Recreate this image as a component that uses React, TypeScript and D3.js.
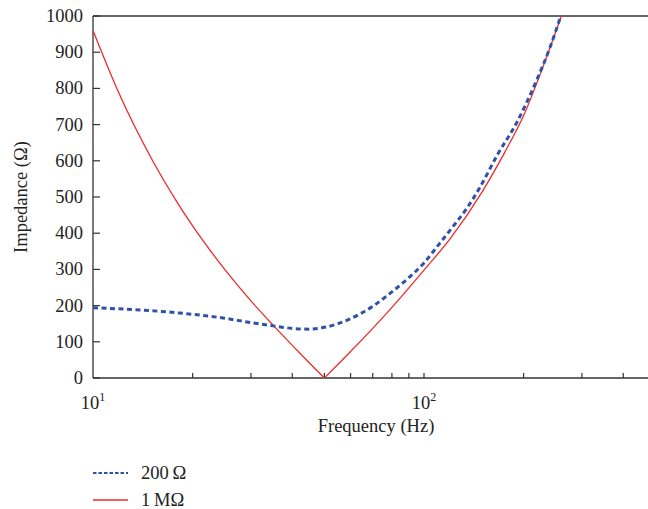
import React from "react";
import * as d3 from "d3";

// values (frequency in Hz, impedance in ohm)
const freqs200 = [10, 12, 15, 18, 20, 25, 30, 35, 40, 45, 50, 55, 60, 70, 80, 90, 100, 110, 121, 135, 147, 167, 190, 219, 240, 259];
const imp200 = [194, 191, 186, 180, 176, 165, 153, 144, 137, 135, 140, 150, 164, 198, 238, 277, 318, 365, 413, 470, 524, 618, 703, 823, 912, 1000];

// 1 MΩ curve: falling branch and rising branch meet at the 50 Hz notch
const freqs1MLow = [10, 12, 15, 18, 20, 25, 30, 35, 40, 45, 50];
const imp1MLow = [960, 785, 607, 484, 420, 300, 213, 146, 90, 42, 0];
const freqs1MHigh = [50, 55, 60, 70, 80, 100, 120, 150, 175, 200, 230, 260];
const imp1MHigh = [0, 38, 73, 137, 195, 298, 385, 515, 622, 725, 865, 1000];

const yTicks = [0, 100, 200, 300, 400, 500, 600, 700, 800, 900, 1000];
const xMinorTicks = [20, 30, 40, 50, 60, 70, 80, 90, 100, 200, 300, 400];
const xLabels = [
  { v: 10, exp: "1" },
  { v: 100, exp: "2" },
];

const W = 648;
const H = 509;
const left = 93;
const top = 16;
const bottom = 378;
const decade = 331;

const font = "'Liberation Serif', 'DejaVu Serif', serif";
const axisColor = "#333";
const blue = "#2f52a6";
const red = "#ee2a2a";

const App = () => {
  const x = d3
    .scaleLog()
    .domain([10, 500])
    .range([left, left + decade * Math.log10(50)]);
  const y = d3.scaleLinear().domain([0, 1000]).range([bottom, top]);

  const line = d3
    .line<[number, number]>()
    .x((d) => x(d[0]))
    .y((d) => y(d[1]))
    .curve(d3.curveMonotoneX);

  const zip = (fs: number[], vs: number[]) => fs.map((f, i) => [f, vs[i]] as [number, number]);
  const s200 = zip(freqs200, imp200);
  const s1MLow = zip(freqs1MLow, imp1MLow);
  const s1MHigh = zip(freqs1MHigh, imp1MHigh);

  return (
    <svg
      width={W}
      height={H}
      style={{ position: "absolute", left: 0, top: 0, background: "#fff" }}
      fontFamily={font}
    >
      <defs>
        <clipPath id="plot">
          <rect x={left} y={top - 2} width={W - left} height={bottom - top + 2} />
        </clipPath>
      </defs>

      {/* frame */}
      <line x1={left} x2={W} y1={top} y2={top} stroke={axisColor} strokeWidth={1.3} />
      <line x1={left} x2={W} y1={bottom} y2={bottom} stroke={axisColor} strokeWidth={1.3} />
      <line x1={left} x2={left} y1={top} y2={bottom} stroke={axisColor} strokeWidth={1.3} />

      {/* y ticks */}
      {yTicks.map((t) => (
        <g key={t}>
          <line x1={left} x2={left + 7} y1={y(t)} y2={y(t)} stroke={axisColor} strokeWidth={1.2} />
          <text x={83} y={y(t) + 6} textAnchor="end" fontSize={18.5} fill="#222">
            {t}
          </text>
        </g>
      ))}

      {/* x ticks */}
      {xMinorTicks.map((t) => (
        <line key={t} x1={x(t)} x2={x(t)} y1={bottom} y2={bottom - 5} stroke={axisColor} strokeWidth={1.2} />
      ))}
      {xLabels.map((d) => (
        <text key={d.v} x={x(d.v)} y={409} textAnchor="middle" fontSize={18.5} fill="#222">
          10
          <tspan dy={-8} fontSize={12}>
            {d.exp}
          </tspan>
        </text>
      ))}

      <text x={376} y={432} textAnchor="middle" fontSize={18.5} fill="#222">
        Frequency (Hz)
      </text>
      <text
        transform={`translate(27, ${(top + bottom) / 2}) rotate(-90)`}
        textAnchor="middle"
        fontSize={18.5}
        fill="#222"
      >
        Impedance (Ω)
      </text>

      {/* series */}
      <g clipPath="url(#plot)">
        <path d={line(s1MLow) ?? ""} fill="none" stroke={red} strokeWidth={1.3} />
        <path d={line(s1MHigh) ?? ""} fill="none" stroke={red} strokeWidth={1.3} />
        <path d={line(s200) ?? ""} fill="none" stroke={blue} strokeWidth={3} strokeDasharray="5 3.5" />
      </g>

      {/* legend */}
      <line x1={93} x2={128} y1={473} y2={473} stroke={blue} strokeWidth={2} strokeDasharray="3.5 2" />
      <text x={141} y={479} fontSize={18.5} fill="#222">
        200{"\u2009"}Ω
      </text>
      <line x1={93} x2={128} y1={500} y2={500} stroke={red} strokeWidth={1.3} />
      <text x={141} y={506} fontSize={18.5} fill="#222">
        1{"\u2009"}MΩ
      </text>
    </svg>
  );
};

export default App;
